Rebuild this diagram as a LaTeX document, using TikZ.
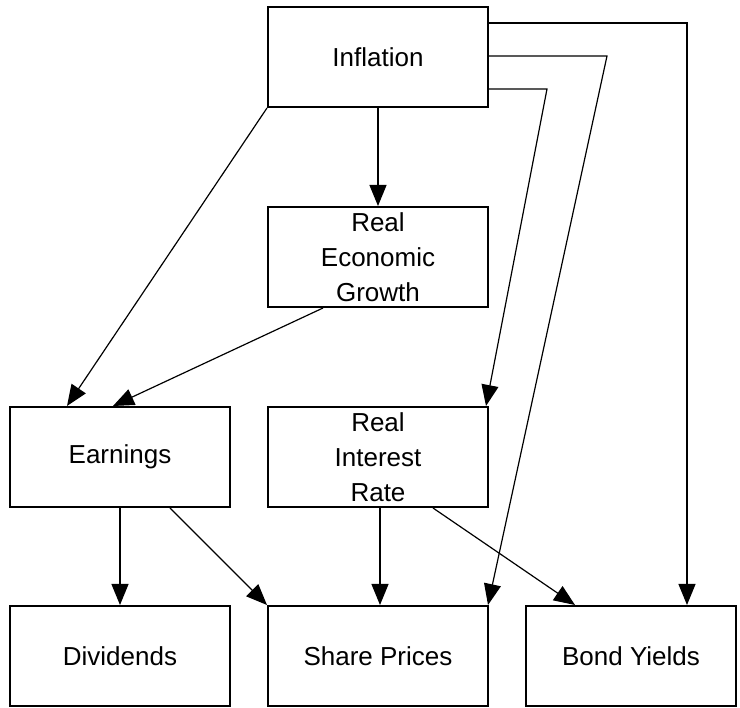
\documentclass[tikz,border=0pt]{standalone}
\usepackage{fontspec}
\setmainfont{Liberation Sans}
\usetikzlibrary{arrows.meta}
\begin{document}
\begin{tikzpicture}[x=1pt,y=-1pt,
  box/.style={draw,line width=2pt,rectangle,minimum width=220pt,minimum height=100pt,inner sep=0pt,
    align=center,font=\fontsize{26}{35}\selectfont},
  arr/.style={line width=1.2pt,-{Triangle[length=21pt,width=17pt]}},
  ln/.style={line width=1.2pt}]
\useasboundingbox (0,0) rectangle (740,708);
\node[box] (infl) at (378,57) {Inflation};
\node[box] (reg) at (378,257) {Real\\Economic\\Growth};
\node[box] (earn) at (120,457) {Earnings};
\node[box] (rir) at (378,457) {Real\\Interest\\Rate};
\node[box] (div) at (120,656) {Dividends};
\node[box] (share) at (378,656) {Share Prices};
\node[box,minimum width=210pt] (bond) at (631,656) {Bond Yields};
\coordinate (c1) at (687,23);
\coordinate (c2) at (607,56);
\coordinate (c3) at (547,89);
\draw[arr] (infl.south) -- (reg.north);
\draw[arr] (infl.south west) -- ([xshift=-53pt]earn.north);
\draw[arr] ([xshift=-55pt]reg.south) -- ([xshift=-7pt]earn.north);
\draw[arr] (infl.east |- c1) -- (c1) -- (c1 |- bond.north);
\draw[arr] (infl.east |- c2) -- (c2) -- ([xshift=-1pt]share.north east);
\draw[arr] (infl.east |- c3) -- (c3) -- ([xshift=-3pt]rir.north east);
\draw[arr] (earn.south) -- (div.north);
\draw[arr] ([xshift=50pt]earn.south) -- (share.north west);
\draw[arr] ([xshift=2pt]rir.south) -- ([xshift=2pt]share.north);
\draw[arr] ([xshift=55pt]rir.south) -- ([xshift=-56pt]bond.north);
\end{tikzpicture}
\end{document}
